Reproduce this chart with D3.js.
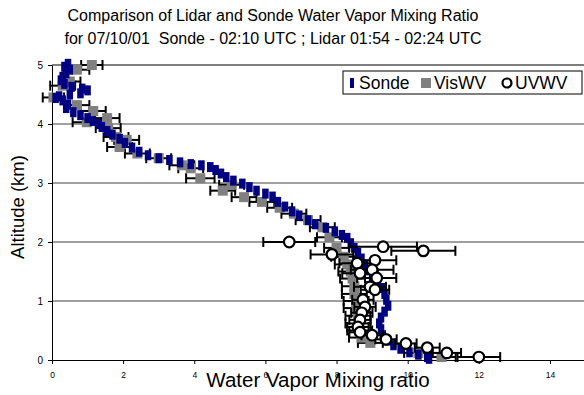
<!DOCTYPE html>
<html>
<head>
<meta charset="utf-8">
<script src="https://cdn.jsdelivr.net/npm/d3@7"></script>
<style>
  body { margin: 0; background: #fff; }
  text { font-family: "Liberation Sans", Arial, sans-serif; }
</style>
</head>
<body>
<svg id="chart" width="584" height="395"></svg>
<script>
// Axis ticks
const xTicks = [0, 2, 4, 6, 8, 10, 12, 14];
const yTicks = [0, 1, 2, 3, 4, 5];
const gridAltitudes = [1, 2, 3, 4, 5];

// Radiosonde profile: [mixing ratio g/kg, altitude km]
const sonde = [
  [0.45, 5.02], [0.35, 4.97], [0.5, 4.92], [0.4, 4.86], [0.3, 4.8], [0.25, 4.74],
  [0.35, 4.68], [0.55, 4.63], [0.85, 4.6], [1.0, 4.57], [0.8, 4.52], [0.5, 4.5],
  [0.2, 4.47], [0.1, 4.44], [0.3, 4.4], [0.45, 4.33], [0.4, 4.27], [0.6, 4.2],
  [0.8, 4.15], [1.0, 4.1], [1.15, 4.05], [1.3, 4.0], [1.4, 3.95], [1.55, 3.88],
  [1.7, 3.82], [1.9, 3.75], [2.05, 3.68], [2.25, 3.6], [2.45, 3.53], [2.7, 3.47],
  [3.0, 3.42], [3.3, 3.39], [3.6, 3.35], [3.9, 3.32], [4.2, 3.3], [4.45, 3.27],
  [4.6, 3.22], [4.75, 3.16], [4.9, 3.1], [5.1, 3.04], [5.35, 2.99], [5.55, 2.93],
  [5.75, 2.87], [6.0, 2.82], [6.2, 2.77], [6.35, 2.68], [6.55, 2.6], [6.75, 2.52],
  [6.95, 2.45], [7.2, 2.37], [7.4, 2.3], [7.7, 2.24], [7.95, 2.18], [8.15, 2.12],
  [8.3, 2.07], [8.4, 1.98], [8.5, 1.9], [8.6, 1.82], [8.7, 1.72], [8.8, 1.62],
  [8.9, 1.52], [9.0, 1.42], [9.15, 1.32], [9.3, 1.22], [9.35, 1.12], [9.4, 1.02],
  [9.45, 0.92], [9.35, 0.82], [9.25, 0.72], [9.2, 0.62], [9.25, 0.52], [9.3, 0.42],
  [9.45, 0.33], [9.6, 0.25], [9.8, 0.19], [10.05, 0.13], [10.3, 0.09], [10.55, 0.05],
  [10.6, 0.02]
];

// Visible-channel lidar retrieval: [mixing ratio, altitude, error]
const visWV = [
  [1.12, 5.0, 0.3], [0.7, 4.92, 0.35], [0.5, 4.72, 0.3], [0.3, 4.65, 0.35], [0.04, 4.45, 0.3],
  [0.7, 4.32, 0.35], [1.16, 4.22, 0.35], [0.98, 4.03, 0.4], [1.55, 4.1, 0.35], [1.58, 3.93, 0.35],
  [1.8, 3.78, 0.35], [2.1, 3.73, 0.35], [1.9, 3.61, 0.35], [2.4, 3.5, 0.35], [3.0, 3.42, 0.35],
  [3.65, 3.3, 0.35], [3.9, 3.25, 0.35], [4.17, 3.08, 0.4], [4.8, 2.87, 0.35], [5.05, 2.97, 0.35],
  [5.4, 2.76, 0.35], [5.9, 2.68, 0.35], [6.4, 2.58, 0.35], [6.8, 2.48, 0.35], [7.2, 2.37, 0.35],
  [7.6, 2.25, 0.35], [7.8, 2.08, 0.35], [8.0, 1.9, 0.35], [8.2, 1.75, 0.35], [8.3, 1.62, 0.35],
  [8.4, 1.5, 0.35], [8.45, 1.38, 0.35], [8.5, 1.25, 0.35], [8.5, 1.12, 0.35], [8.55, 1.0, 0.35],
  [8.55, 0.88, 0.35], [8.6, 0.75, 0.35], [8.6, 0.62, 0.35], [8.65, 0.5, 0.35], [8.7, 0.38, 0.35],
  [8.95, 0.29, 0.35], [10.3, 0.12, 0.4], [10.95, 0.05, 0.4]
];

// UV-channel lidar retrieval: [mixing ratio, altitude, error]
const uvWV = [
  [6.67, 2.0, 0.73], [7.87, 1.79, 0.6], [9.31, 1.92, 0.95], [10.44, 1.85, 0.9],
  [8.58, 1.64, 0.5], [9.08, 1.69, 0.6], [8.66, 1.47, 0.5], [9.0, 1.53, 0.6],
  [9.13, 1.39, 0.55], [8.94, 1.24, 0.45], [9.08, 1.19, 0.4], [8.74, 1.02, 0.3],
  [8.8, 0.9, 0.3], [8.71, 0.8, 0.3], [8.66, 0.68, 0.3], [8.6, 0.56, 0.3],
  [8.66, 0.47, 0.3], [9.0, 0.42, 0.3], [9.39, 0.35, 0.3], [9.95, 0.28, 0.3],
  [10.55, 0.21, 0.35], [11.1, 0.12, 0.4], [12.0, 0.05, 0.6]
];

const svg = d3.select("#chart");
svg.append("rect").attr("width", 584).attr("height", 395).attr("fill", "#fff");

const x = d3.scaleLinear().domain([0, 16]).range([52, 52 + 16 * 35.57]);
const y = d3.scaleLinear().domain([0, 5]).range([360, 65]);

// Horizontal gridlines
svg.append("g").selectAll("line").data(gridAltitudes).join("line")
  .attr("x1", x(0)).attr("x2", 584)
  .attr("y1", d => y(d)).attr("y2", d => y(d))
  .attr("stroke", d => d === 5 ? "#555" : "#808080")
  .attr("stroke-width", d => d === 5 ? 1.6 : 1.3);

// Axes
const xAxis = svg.append("g").attr("transform", `translate(0,${y(0)})`)
  .call(d3.axisBottom(x).tickValues(xTicks).tickFormat(d3.format("d"))
    .tickSize(4).tickSizeOuter(0).tickPadding(8));
xAxis.selectAll("text").attr("font-size", 8.5).attr("fill", "#000");
const yAxis = svg.append("g").attr("transform", `translate(${x(0)},0)`)
  .call(d3.axisLeft(y).tickValues(yTicks).tickFormat(d3.format("d"))
    .tickSize(4).tickSizeOuter(0).tickPadding(5));
yAxis.selectAll("text").attr("font-size", 10).attr("fill", "#000");
svg.selectAll(".domain").attr("stroke", "#000");
svg.selectAll(".tick line").attr("stroke", "#000");

const capH = 5;
function errorBars(data, cls) {
  const g = svg.append("g").attr("class", cls).attr("stroke", "#000").attr("stroke-width", 2);
  g.selectAll("line.bar").data(data).join("line").attr("class", "bar")
    .attr("x1", d => x(d[0] - d[2])).attr("x2", d => x(d[0] + d[2]))
    .attr("y1", d => y(d[1])).attr("y2", d => y(d[1]));
  g.selectAll("line.capl").data(data).join("line").attr("class", "capl")
    .attr("x1", d => x(d[0] - d[2])).attr("x2", d => x(d[0] - d[2]))
    .attr("y1", d => y(d[1]) - capH).attr("y2", d => y(d[1]) + capH);
  g.selectAll("line.capr").data(data).join("line").attr("class", "capr")
    .attr("x1", d => x(d[0] + d[2])).attr("x2", d => x(d[0] + d[2]))
    .attr("y1", d => y(d[1]) - capH).attr("y2", d => y(d[1]) + capH);
}

// VisWV: error bars then grey squares
errorBars(visWV, "vis-err");
svg.append("g").selectAll("rect").data(visWV).join("rect")
  .attr("x", d => x(d[0]) - 5).attr("y", d => y(d[1]) - 5)
  .attr("width", 10).attr("height", 10).attr("fill", "#808080");

// Sonde: dark blue bar markers
svg.append("g").selectAll("rect").data(sonde).join("rect")
  .attr("x", d => x(d[0]) - 3.25).attr("y", d => y(d[1]) - 5)
  .attr("width", 6.5).attr("height", 10).attr("fill", "#000080");

// UVWV: error bars then open circles
errorBars(uvWV, "uv-err");
svg.append("g").selectAll("circle").data(uvWV).join("circle")
  .attr("cx", d => x(d[0])).attr("cy", d => y(d[1])).attr("r", 5.3)
  .attr("fill", "#fff").attr("stroke", "#000").attr("stroke-width", 2.2);

// Titles
const title = svg.append("text").attr("text-anchor", "middle").attr("font-size", 16)
  .attr("fill", "#000").style("white-space", "pre");
title.append("tspan").attr("x", 273).attr("y", 20.5)
  .text("Comparison of Lidar and Sonde Water Vapor Mixing Ratio");
title.append("tspan").attr("x", 273).attr("y", 43.5)
  .text("for 07/10/01  Sonde - 02:10 UTC ; Lidar 01:54 - 02:24 UTC");

svg.append("text").attr("x", 318).attr("y", 387).attr("text-anchor", "middle")
  .attr("font-size", 20.5).attr("fill", "#000").text("Water Vapor Mixing ratio");

svg.append("text").attr("transform", "translate(24,207) rotate(-90)")
  .attr("text-anchor", "middle").attr("font-size", 18.5).attr("fill", "#000")
  .text("Altitude (km)");

// Legend
const lg = svg.append("g");
lg.append("rect").attr("x", 343).attr("y", 71).attr("width", 239).attr("height", 23)
  .attr("fill", "#fff").attr("stroke", "#000").attr("stroke-width", 1);
lg.append("rect").attr("x", 350).attr("y", 78).attr("width", 4).attr("height", 10).attr("fill", "#000080");
lg.append("text").attr("x", 359).attr("y", 88.5).attr("font-size", 17.5).text("Sonde");
lg.append("rect").attr("x", 421).attr("y", 78).attr("width", 10).attr("height", 10).attr("fill", "#808080");
lg.append("text").attr("x", 434).attr("y", 88.5).attr("font-size", 17.5).text("VisWV");
lg.append("circle").attr("cx", 507).attr("cy", 83).attr("r", 4.5)
  .attr("fill", "#fff").attr("stroke", "#000").attr("stroke-width", 2.2);
lg.append("text").attr("x", 515).attr("y", 88.5).attr("font-size", 17.5).text("UVWV");
</script>
</body>
</html>
